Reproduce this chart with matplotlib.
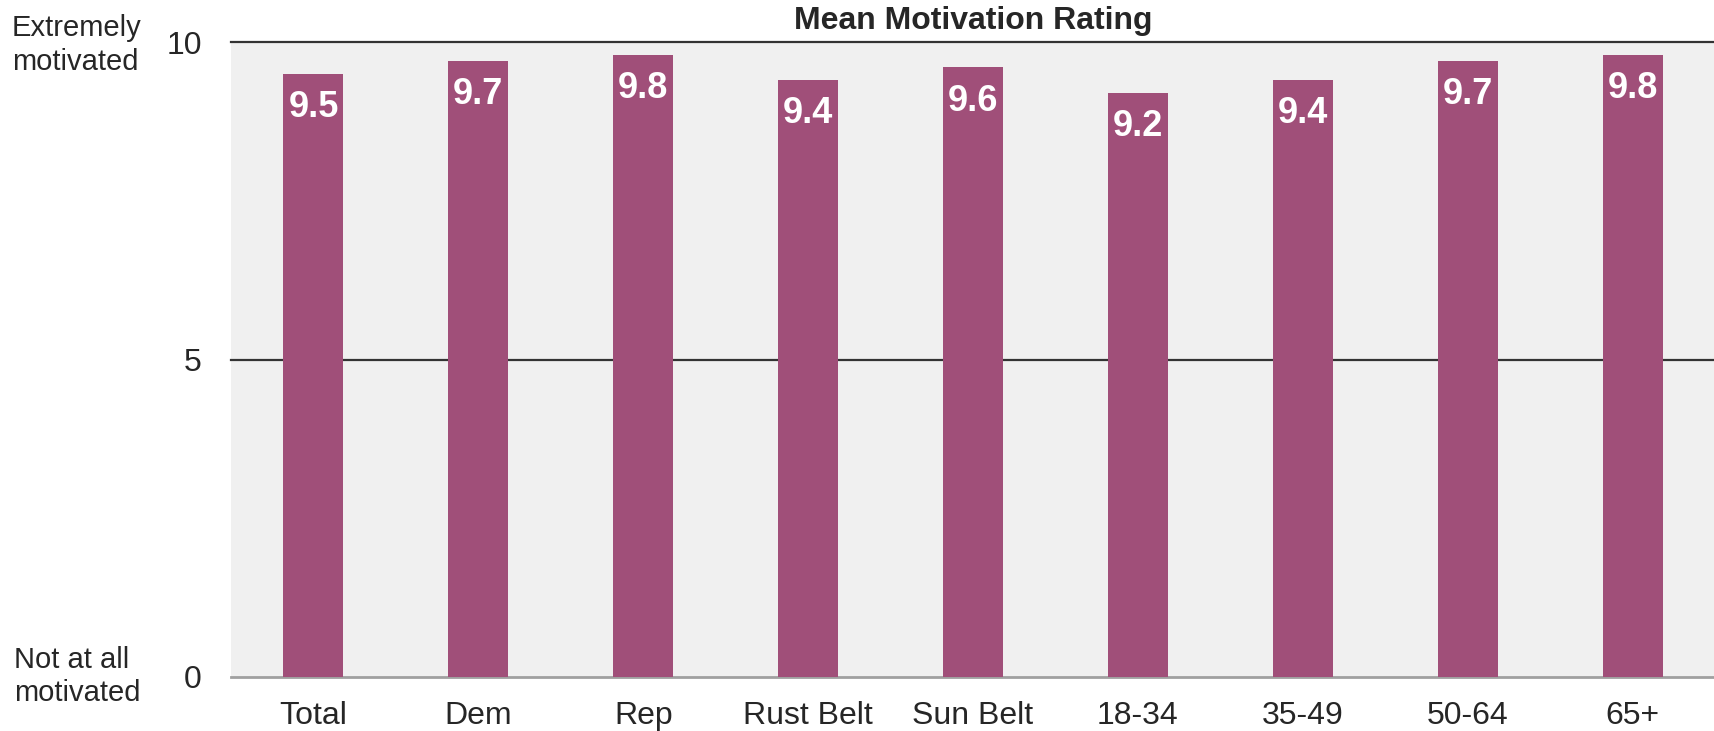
import matplotlib
matplotlib.use("Agg")
import matplotlib.pyplot as plt
import matplotlib.transforms as mtransforms

categories = ["Total", "Dem", "Rep", "Rust Belt", "Sun Belt", "18-34", "35-49", "50-64", "65+"]
values = [9.5, 9.7, 9.8, 9.4, 9.6, 9.2, 9.4, 9.7, 9.8]
yticks = [0, 5, 10]
title = "Mean Motivation Rating"
top_label = "Extremely\nmotivated"
bottom_label = "Not at all\nmotivated"

plt.rcParams['font.family'] = ['Liberation Sans', 'DejaVu Sans']

W, H = 1715, 731
fig = plt.figure(figsize=(W / 100, H / 100), dpi=100)
left, right, top, bottom = 231, 1715, 42, 677
ax = fig.add_axes([left / W, 1 - bottom / H, (right - left) / W, (bottom - top) / H])
ax.set_facecolor("#F0F0F0")

x = list(range(len(categories)))
bars = ax.bar(x, values, width=0.364, color="#A04F79", zorder=3)
for xi, v in zip(x, values):
    ax.text(xi, v - 0.53, f"{v:.1f}", ha="center", va="center", color="white",
            fontsize=26, fontweight="bold", zorder=4)

ax.set_xlim(-0.5, len(categories) - 0.5)
ax.set_ylim(0, 10)
ax.set_yticks(yticks)
ax.set_yticklabels([str(t) for t in yticks], fontsize=23, color="#262626")
ax.set_xticks(x)
ax.set_xticklabels(categories, fontsize=23, color="#262626")
ax.tick_params(axis="y", length=0, pad=21)
ax.tick_params(axis="x", length=0, pad=17)
for s in ["top", "right", "left"]:
    ax.spines[s].set_visible(False)
ax.spines["bottom"].set_color("#A0A0A0")
ax.spines["bottom"].set_linewidth(2)
for yv in [5, 10]:
    ax.axhline(yv, color="#333333", linewidth=1.6, zorder=2, clip_on=False)

ax.set_title(title, fontsize=23, fontweight="bold", color="#262626", pad=9)

trans = mtransforms.blended_transform_factory(fig.transFigure, ax.transData)
ax.text(12 / W, 9.95, top_label, transform=trans, ha="left", va="center",
        fontsize=21, color="#262626", linespacing=1.25)
ax.text(14 / W, 0.01, bottom_label, transform=trans, ha="left", va="center",
        fontsize=21, color="#262626", linespacing=1.25)

fig.savefig("out.png", dpi=100)
